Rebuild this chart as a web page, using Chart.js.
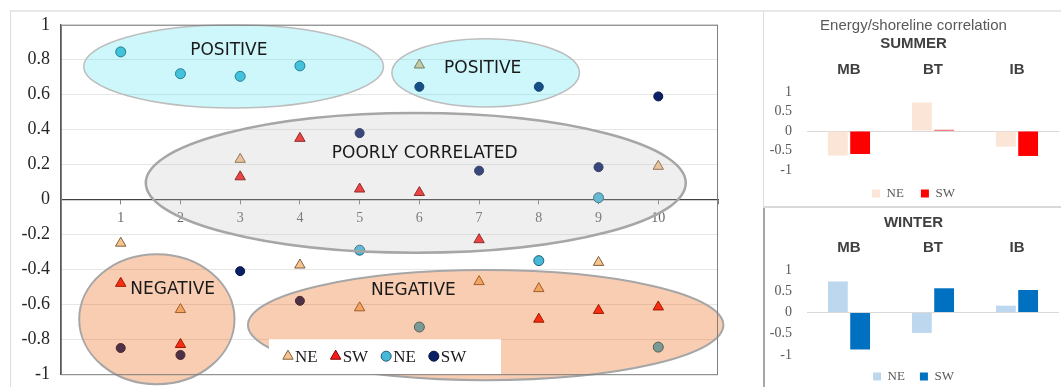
<!DOCTYPE html>
<html>
<head>
<meta charset="utf-8">
<script src="https://cdn.jsdelivr.net/npm/chart.js@4.4.1/dist/chart.umd.min.js"></script>
<style>
  body { margin: 0; background: #fff; width: 1061px; height: 387px; position: relative; overflow: hidden; }
  .frame { position: absolute; box-sizing: border-box; }
  #mainFrame { left: 10px; top: 10px; width: 754px; height: 377px; border-left: 1px solid #dedede; border-top: 2px solid #e8e8e8; }
  #summerFrame { left: 763px; top: 10px; width: 298px; height: 198px; border-left: 1px solid #dedede; border-top: 2px solid #e8e8e8; border-bottom: 2px solid #d9d9d9; }
  #winterFrame { left: 763px; top: 208px; width: 298px; height: 179px; border-left: 2px solid #a6a6a6; }
  canvas { position: absolute; }
  #mainChart { left: 11px; top: 3px; }
  #summerChart { left: 765px; top: 12px; }
  #winterChart { left: 765px; top: 210px; }
</style>
</head>
<body>
<div class="frame" id="mainFrame"></div>
<div class="frame" id="summerFrame"></div>
<div class="frame" id="winterFrame"></div>
<canvas id="mainChart" width="752" height="393"></canvas>
<canvas id="summerChart" width="296" height="198"></canvas>
<canvas id="winterChart" width="296" height="183"></canvas>
<script>
// main scatter: energy/shoreline correlation per site
const sites = [1, 2, 3, 4, 5, 6, 7, 8, 9, 10];
const triNE = [-0.25, -0.63, 0.23, -0.375, -0.62, 0.77, -0.47, -0.51, -0.36, 0.19];
const triSW = [-0.48, -0.83, 0.13, 0.35, 0.06, 0.04, -0.23, -0.685, -0.635, -0.615];
const dotNE = [0.845, 0.72, 0.705, 0.765, -0.29, -0.73, null, -0.35, 0.01, -0.845];
const dotSW = [-0.85, -0.89, -0.41, -0.58, 0.38, 0.645, 0.165, 0.645, 0.185, 0.59];
const yTicks = [-1, -0.8, -0.6, -0.4, -0.2, 0, 0.2, 0.4, 0.6, 0.8, 1];

// side bar charts
const beaches = ['MB', 'BT', 'IB'];
const summerNE = [-0.63, 0.73, -0.4];
const summerSW = [-0.59, 0.03, -0.64];
const winterNE = [0.73, -0.48, 0.16];
const winterSW = [-0.87, 0.57, 0.53];

const SERIF = '"Liberation Serif", "DejaVu Serif", serif';
const SANS = '"Liberation Sans", Arial, sans-serif';

// group outlines, in data units
const groups = [
    { cx: 2.89, cy: 0.762, rx: 2.51, ry: 0.238, fill: 'rgba(55,223,235,0.25)', stroke: '#bdbdbd', lw: 1.5 },
    { cx: 7.11, cy: 0.725, rx: 1.57, ry: 0.195, fill: 'rgba(55,223,235,0.25)', stroke: '#bdbdbd', lw: 1.5 },
    { cx: 5.94, cy: 0.095, rx: 4.52, ry: 0.40, fill: 'rgba(191,191,191,0.25)', stroke: '#a6a6a6', lw: 2.5 },
    { cx: 1.605, cy: -0.685, rx: 1.30, ry: 0.372, fill: 'rgba(235,88,0,0.3)', stroke: '#a6a6a6', lw: 2 },
    { cx: 7.11, cy: -0.719, rx: 3.98, ry: 0.315, fill: 'rgba(235,88,0,0.3)', stroke: '#a6a6a6', lw: 2 }
];
const groupNames = [
    { text: 'POSITIVE', x: 2.81, y: 0.85 },
    { text: 'POSITIVE', x: 7.06, y: 0.748 },
    { text: 'POORLY CORRELATED', x: 6.09, y: 0.26 },
    { text: 'NEGATIVE', x: 1.87, y: -0.513 },
    { text: 'NEGATIVE', x: 5.90, y: -0.524 }
];

const toPoints = values => sites.map((s, i) => ({ x: s, y: values[i] }));

// same marker shapes as Chart.js uses for 'triangle' / 'circle'
function drawMarker(ctx, style, r, x, y) {
    ctx.beginPath();
    if (style === 'triangle') {
        ctx.moveTo(x, y - r);
        ctx.lineTo(x + r * Math.sin(2 * Math.PI / 3), y - r * Math.cos(2 * Math.PI / 3));
        ctx.lineTo(x + r * Math.sin(4 * Math.PI / 3), y - r * Math.cos(4 * Math.PI / 3));
        ctx.closePath();
    } else {
        ctx.arc(x, y, r, 0, Math.PI * 2);
    }
    ctx.fill();
    ctx.stroke();
}

const groupsPlugin = {
    id: 'groups',
    afterDatasetsDraw(chart) {
        const { ctx, chartArea, scales: { x, y } } = chart;
        ctx.save();
        groups.forEach(g => {
            const px = x.getPixelForValue(g.cx);
            const py = y.getPixelForValue(g.cy);
            const rx = Math.abs(x.getPixelForValue(g.cx + g.rx) - px);
            const ry = Math.abs(y.getPixelForValue(g.cy + g.ry) - py);
            ctx.beginPath();
            ctx.ellipse(px, py, rx, ry, 0, 0, Math.PI * 2);
            ctx.fillStyle = g.fill;
            ctx.fill();
            ctx.lineWidth = g.lw;
            ctx.strokeStyle = g.stroke;
            ctx.stroke();
        });
        ctx.fillStyle = '#1a1a1a';
        ctx.font = '17px "DejaVu Sans", Verdana, sans-serif';
        ctx.textAlign = 'center';
        ctx.textBaseline = 'middle';
        groupNames.forEach(n => {
            ctx.fillText(n.text, x.getPixelForValue(n.x), y.getPixelForValue(n.y));
        });

        // legend box sitting on the bottom of the plot
        const boxLeft = chartArea.left + 208;
        const boxTop = chartArea.bottom - 35;
        ctx.fillStyle = '#fff';
        ctx.fillRect(boxLeft, boxTop, 232, 35);
        ctx.font = '17px ' + SERIF;
        ctx.textAlign = 'left';
        let cursor = boxLeft + 14;
        const midY = boxTop + 17;
        chart.data.datasets.forEach(ds => {
            ctx.fillStyle = ds.backgroundColor;
            ctx.strokeStyle = ds.borderColor;
            ctx.lineWidth = 1;
            drawMarker(ctx, ds.pointStyle, ds.pointStyle === 'triangle' ? 6 : 5, cursor + 5, midY);
            ctx.fillStyle = '#1a1a1a';
            ctx.fillText(ds.label, cursor + 12, midY + 1);
            cursor += 12 + ctx.measureText(ds.label).width + 13;
        });

        // plot frame
        ctx.strokeStyle = '#7f7f7f';
        ctx.lineWidth = 1;
        ctx.strokeRect(chartArea.left + 0.5, chartArea.top + 0.5, chartArea.width - 1, chartArea.height);
        ctx.restore();
    }
};

new Chart(document.getElementById('mainChart'), {
    type: 'scatter',
    data: {
        datasets: [
            { label: 'NE', data: toPoints(triNE), pointStyle: 'triangle', pointRadius: 6, backgroundColor: '#f6c48f', borderColor: '#80603f', borderWidth: 1 },
            { label: 'SW', data: toPoints(triSW), pointStyle: 'triangle', pointRadius: 6, backgroundColor: '#ff1a1a', borderColor: '#7a0000', borderWidth: 1 },
            { label: 'NE', data: toPoints(dotNE), pointStyle: 'circle', pointRadius: 5, backgroundColor: '#47b9d6', borderColor: '#1f5d78', borderWidth: 1 },
            { label: 'SW', data: toPoints(dotSW), pointStyle: 'circle', pointRadius: 4.5, backgroundColor: '#0b1f66', borderColor: '#06123f', borderWidth: 1 }
        ]
    },
    options: {
        responsive: false,
        animation: false,
        layout: { padding: { top: 5, right: 45, bottom: 6, left: 0 } },
        plugins: { legend: { display: false }, tooltip: { enabled: false } },
        scales: {
            x: {
                type: 'linear',
                position: { y: 0 },
                min: 0,
                max: 11,
                ticks: {
                    stepSize: 1,
                    padding: 6,
                    color: '#666666',
                    font: { family: SERIF, size: 14 },
                    callback: v => (v >= 1 && v <= 10 ? v : '')
                },
                grid: { drawOnChartArea: false, drawTicks: true, tickLength: 4, tickColor: '#7f7f7f' },
                border: { color: '#404040', width: 1.3 }
            },
            y: {
                min: -1,
                max: 1,
                afterBuildTicks: scale => { scale.ticks = yTicks.map(v => ({ value: v })); },
                afterFit: scale => { scale.width = 50; },
                ticks: {
                    padding: 11,
                    color: '#262626',
                    font: { family: SERIF, size: 18 },
                    callback: v => String(Number(v.toFixed(1)))
                },
                grid: { color: '#e6e6e6', drawTicks: false },
                border: { color: '#595959', width: 1.3 }
            }
        }
    },
    plugins: [groupsPlugin]
});

function seasonChart(id, titleLines, neValues, swValues, neColor, swColor, axisHeight, legendPad) {
    const titleOpts = titleLines.length > 1
        ? { display: true, text: titleLines[0], color: '#595959', font: { family: SANS, size: 15, weight: 'normal' }, padding: { top: 5, bottom: 0 } }
        : { display: true, text: titleLines[0], color: '#404040', font: { family: SANS, size: 15, weight: 'bold' }, padding: { top: 4, bottom: 4 } };
    const subtitleOpts = titleLines.length > 1
        ? { display: true, text: titleLines[1], color: '#404040', font: { family: SANS, size: 15, weight: 'bold' }, padding: { top: 0, bottom: 4 } }
        : { display: false };

    return new Chart(document.getElementById(id), {
        type: 'bar',
        data: {
            labels: beaches,
            datasets: [
                { label: 'NE', data: neValues, backgroundColor: neColor },
                { label: 'SW', data: swValues, backgroundColor: swColor }
            ]
        },
        options: {
            responsive: false,
            animation: false,
            barPercentage: 0.89,
            categoryPercentage: 0.53,
            layout: { padding: { top: 0, right: 2, bottom: 0, left: 3 } },
            plugins: {
                title: titleOpts,
                subtitle: subtitleOpts,
                tooltip: { enabled: false },
                legend: {
                    position: 'bottom',
                    labels: {
                        boxWidth: 8,
                        boxHeight: 8,
                        padding: legendPad,
                        color: '#595959',
                        font: { family: SERIF, size: 13 }
                    }
                }
            },
            scales: {
                x: {
                    position: 'top',
                    afterFit: scale => { scale.height = axisHeight; },
                    ticks: { padding: 13, color: '#404040', font: { family: SANS, size: 15, weight: 'bold' } },
                    grid: { display: false, drawTicks: false },
                    border: { display: false }
                },
                y: {
                    min: -1,
                    max: 1,
                    afterFit: scale => { scale.width = 39; },
                    ticks: {
                        stepSize: 0.5,
                        autoSkip: false,
                        padding: 15,
                        color: '#595959',
                        font: { family: SERIF, size: 14 },
                        callback: v => String(v)
                    },
                    grid: {
                        drawTicks: false,
                        color: c => (c.tick && c.tick.value === 0 ? '#d9d9d9' : 'rgba(0,0,0,0)')
                    },
                    border: { display: false }
                }
            }
        }
    });
}

seasonChart('summerChart', ['Energy/shoreline correlation', 'SUMMER'], summerNE, summerSW, '#fbe5d6', '#ff0000', 35, 17);
seasonChart('winterChart', ['WINTER'], winterNE, winterSW, '#bdd7ee', '#0070c0', 34, 15);
</script>
</body>
</html>
